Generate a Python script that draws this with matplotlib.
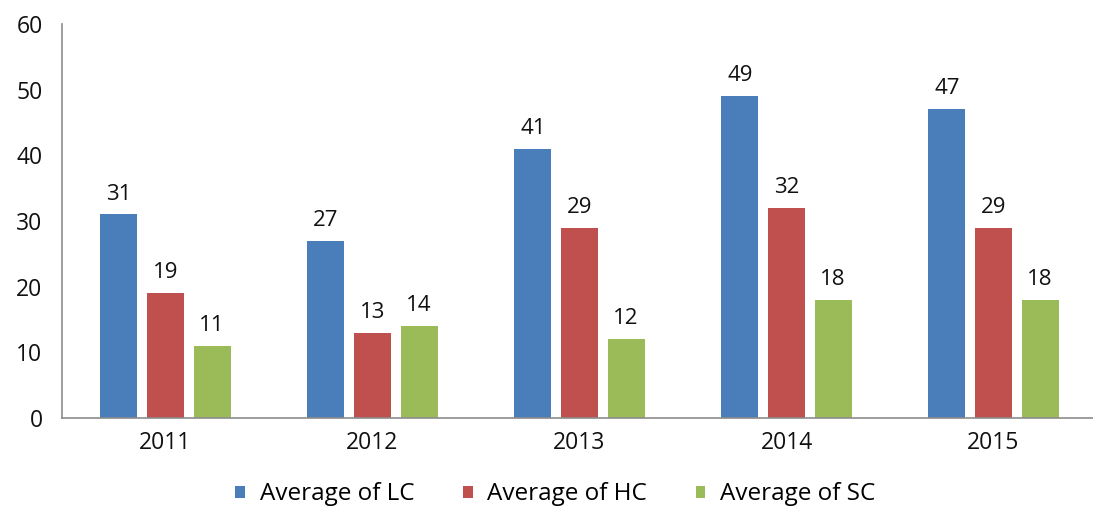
import matplotlib
matplotlib.use("Agg")
import matplotlib.pyplot as plt
import numpy as np

plt.rcParams['font.family'] = ['Open Sans', 'DejaVu Sans']

years = ["2011", "2012", "2013", "2014", "2015"]
series_names = ["Average of LC", "Average of HC", "Average of SC"]
lc = [31, 27, 41, 49, 47]
hc = [19, 13, 29, 32, 29]
sc = [11, 14, 12, 18, 18]
colors = ["#4A7EBB", "#C0504D", "#9BBB59"]

fig = plt.figure(figsize=(10.93, 5.08), dpi=100)
ax = fig.add_axes([0.0567, 0.177, 0.947, 0.776])

x = np.arange(len(years))
width = 0.179
step = 0.225
for i, (vals, name, c) in enumerate(zip([lc, hc, sc], series_names, colors)):
    pos = x + (i - 1) * step
    bars = ax.bar(pos, vals, width, color=c, label=name)
    for b, v in zip(bars, vals):
        ax.text(b.get_x() + b.get_width() / 2, v + 1.5, str(v),
                ha="center", va="bottom", fontsize=16, color="#111111")

ax.set_xlim(-0.5, 4.5)
ax.set_ylim(0, 60)
ax.set_yticks(range(0, 61, 10))
ax.set_xticks(x)
ax.set_xticklabels(years)
ax.tick_params(axis="both", length=0, labelsize=16.5, colors="#111111")
ax.tick_params(axis="y", pad=14)
ax.tick_params(axis="x", pad=9)
for s in ["top", "right"]:
    ax.spines[s].set_visible(False)
for s in ["left", "bottom"]:
    ax.spines[s].set_color("#8c8c8c")
    ax.spines[s].set_linewidth(1.2)

fig.legend(loc="lower center", bbox_to_anchor=(0.508, -0.04), ncol=3,
           frameon=False, fontsize=17.5, handlelength=0.4, handleheight=0.4,
           handletextpad=0.6, columnspacing=2.0)

fig.savefig("out.png", dpi=100)
